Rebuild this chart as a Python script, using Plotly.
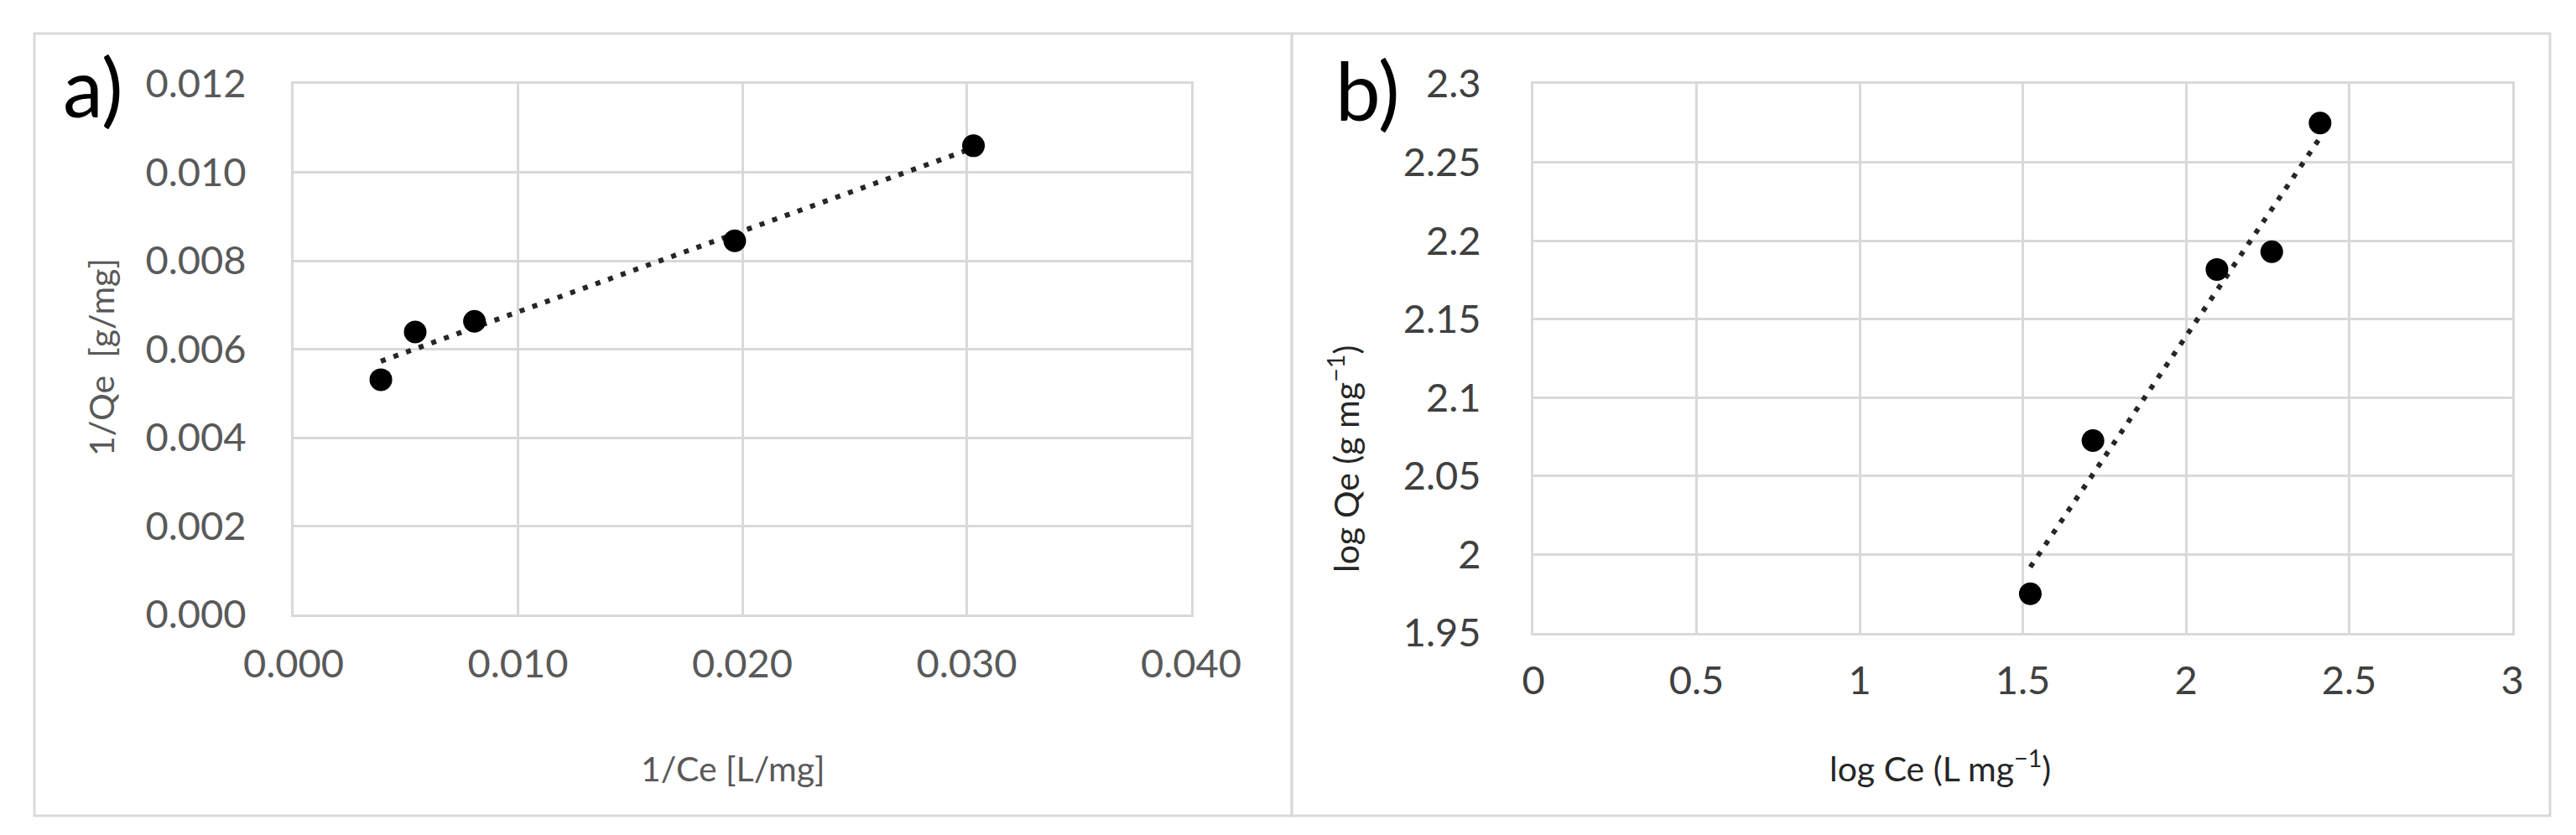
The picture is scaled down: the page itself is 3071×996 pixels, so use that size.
import numpy as np
import plotly.graph_objects as go

# ---------------- data ----------------
# Panel a: Langmuir (1/Ce vs 1/Qe)
inv_ce = [0.00389, 0.00542, 0.00806, 0.01966, 0.0303]
inv_qe = [0.00531, 0.00639, 0.00663, 0.00845, 0.0106]
xa_ticks = [0.0, 0.01, 0.02, 0.03, 0.04]
ya_ticks = [0.0, 0.002, 0.004, 0.006, 0.008, 0.010, 0.012]

# Panel b: Freundlich (log Ce vs log Qe)
log_ce = [1.523, 1.715, 2.095, 2.263, 2.411]
log_qe = [1.975, 2.0726, 2.1817, 2.193, 2.275]
xb_ticks = [0, 0.5, 1, 1.5, 2, 2.5, 3]
xb_text = ["0", "0.5", "1", "1.5", "2", "2.5", "3"]
yb_ticks = [1.95, 2.0, 2.05, 2.1, 2.15, 2.2, 2.25, 2.3]
yb_text = ["1.95", "2", "2.05", "2.1", "2.15", "2.2", "2.25", "2.3"]

# ---------------- layout helpers ----------------
W, H = 3071, 996
def px(x):
    return x / W
def py(y):
    return 1 - y / H

GRID = "#d9d9d9"
TICKC = "#595959"
FONT = "Lato"

fig = go.Figure()

# linear trendlines (least squares fit of the data)
ka, ba = np.polyfit(inv_ce, inv_qe, 1)
xa_line = [min(inv_ce), max(inv_ce)]
fig.add_trace(go.Scatter(x=xa_line, y=[ka * v + ba for v in xa_line], mode="lines",
                         line=dict(color="#262626", width=6, dash="6px,10px"),
                         xaxis="x", yaxis="y", showlegend=False, hoverinfo="skip"))
fig.add_trace(go.Scatter(x=inv_ce, y=inv_qe, mode="markers",
                         marker=dict(color="black", size=27),
                         xaxis="x", yaxis="y", showlegend=False))

kb, bb = np.polyfit(log_ce, log_qe, 1)
xb_line = [min(log_ce), max(log_ce)]
fig.add_trace(go.Scatter(x=xb_line, y=[kb * v + bb for v in xb_line], mode="lines",
                         line=dict(color="#262626", width=6, dash="6px,10px"),
                         xaxis="x2", yaxis="y2", showlegend=False, hoverinfo="skip"))
fig.add_trace(go.Scatter(x=log_ce, y=log_qe, mode="markers",
                         marker=dict(color="black", size=27),
                         xaxis="x2", yaxis="y2", showlegend=False))

axis_common = dict(showgrid=True, gridcolor=GRID, gridwidth=3, zeroline=False,
                   showline=True, linecolor=GRID, linewidth=3, mirror=True,
                   ticks="", fixedrange=True, automargin=False)

fig.update_layout(
    width=W, height=H, margin=dict(l=0, r=0, t=0, b=0, autoexpand=False),
    paper_bgcolor="white", plot_bgcolor="white",
    xaxis=dict(domain=[px(342), px(1412)], range=[0, 0.04], tickvals=xa_ticks,
               tickformat=".3f", anchor="y", ticklabelstandoff=16,
               tickfont=dict(family=FONT, size=47, color=TICKC), **axis_common),
    yaxis=dict(domain=[py(725), py(92)], range=[0, 0.012], tickvals=ya_ticks,
               tickformat=".3f", anchor="x", ticklabelstandoff=44,
               tickfont=dict(family=FONT, size=47, color=TICKC), **axis_common),
    xaxis2=dict(domain=[px(1820), px(2987)], range=[0, 3], tickvals=xb_ticks,
                ticktext=xb_text, anchor="y2", ticklabelstandoff=14,
                tickfont=dict(family=FONT, size=47, color="#404040"), **axis_common),
    yaxis2=dict(domain=[py(747), py(92)], range=[1.95, 2.3], tickvals=yb_ticks,
                ticktext=yb_text, anchor="x2", ticklabelstandoff=50,
                tickfont=dict(family=FONT, size=47, color="#404040"), **axis_common),
)

# panel frames
for x0, x1 in [(33, 1532), (1532, 3032)]:
    fig.add_shape(type="rect", xref="paper", yref="paper",
                  x0=px(x0), x1=px(x1), y0=py(965), y1=py(32),
                  line=dict(color=GRID, width=3), fillcolor="rgba(0,0,0,0)", layer="below")

def ann(text, x, y, size, color, angle=0):
    fig.add_annotation(text=text, xref="paper", yref="paper", x=px(x), y=py(y),
                       xanchor="center", yanchor="middle", showarrow=False,
                       textangle=angle, font=dict(family=FONT, size=size, color=color))

ann("a)", 103, 95, 96, "black")
ann("b)", 1622, 98, 96, "black")
ann("1/Ce [L/mg]", 866, 908, 41, TICKC)
ann("1/Qe  [g/mg]", 112, 418, 41, TICKC, -90)
ann("log Ce (L mg<sup>\u22121</sup>)", 2305, 906, 41, "#262626")
ann("log Qe (g mg<sup>\u22121</sup>)", 1594, 540, 41, "#262626", -90)

fig.write_html("out.html")
